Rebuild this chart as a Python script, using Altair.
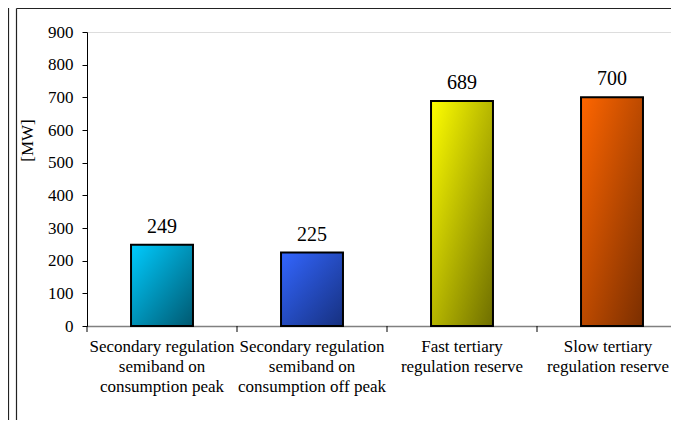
import altair as alt
import pandas as pd

categories = [
    "Secondary regulation|semiband on|consumption peak",
    "Secondary regulation|semiband on|consumption off peak",
    "Fast tertiary|regulation reserve",
    "Slow tertiary|regulation reserve",
]
values = [249, 225, 689, 700]
light_colors = ["#00CCFF", "#3366FF", "#FFFF00", "#FF6600"]
dark_colors = ["#005870", "#16307F", "#6E6E00", "#7A2E00"]
y_ticks = [0, 100, 200, 300, 400, 500, 600, 700, 800, 900]

FONT = "Liberation Serif, Times New Roman, serif"
df = pd.DataFrame({"cat": categories, "val": values})
one = pd.DataFrame({"k": [0]})

x_scale = alt.Scale(range=[0, 600], paddingInner=0, paddingOuter=0)
y_scale = alt.Scale(domain=[0, 900], nice=False)
x_axis = alt.Axis(
    title=None,
    labelExpr="split(datum.label, '|')",
    labelAngle=0,
    labelFont=FONT,
    labelFontSize=17,
    labelColor="black",
    labelLineHeight=20,
    labelPadding=12,
    labelBaseline="top",
    labelOffset={"condition": {"test": "datum.index == 1", "value": -4}, "value": 0},
    ticks=False,
    domainColor="#808080",
    domainWidth=1.5,
    grid=False,
)
y_axis = alt.Axis(
    values=y_ticks,
    tickCount=10,
    labelOverlap=False,
    title="[MW]",
    titleFont=FONT,
    titleFontSize=17,
    titleFontWeight="normal",
    titleColor="black",
    titleAngle=270,
    titleAlign="center",
    titleBaseline="middle",
    titleX=-60,
    titleY=108,
    labelFont=FONT,
    labelFontSize=17,
    labelColor="black",
    labelPadding=9,
    tickSize=5,
    tickColor="black",
    domainColor="black",
    domainWidth=1,
    grid=False,
)

X = alt.X("cat:N", sort=categories, scale=x_scale, axis=x_axis)
Y = alt.Y("val:Q", scale=y_scale, axis=y_axis)

layers = []
for i, c in enumerate(categories):
    grad = alt.LinearGradient(
        gradient="linear",
        stops=[
            alt.GradientStop(color=light_colors[i], offset=0),
            alt.GradientStop(color=dark_colors[i], offset=1),
        ],
        x1=0, y1=0, x2=1, y2=1,
    )
    bar = (
        alt.Chart(df)
        .transform_filter(alt.datum.cat == c)
        .mark_bar(fill=grad, stroke="black", strokeWidth=2,
                  width=alt.RelativeBandSize(0.413))
        .encode(x=X, y=Y)
    )
    layers.append(bar)

text = (
    alt.Chart(df)
    .mark_text(dy=-12, baseline="alphabetic", font=FONT, fontSize=20, color="black")
    .encode(x=X, y=Y, text="val:Q")
)
ticks = (
    alt.Chart(df)
    .mark_rule(color="black", strokeWidth=1)
    .encode(
        x=alt.X("cat:N", sort=categories, scale=x_scale, axis=x_axis, bandPosition=0),
        y=alt.value(294),
        y2=alt.value(300),
    )
)
frame_left = alt.Chart(one).mark_rule(color="#222222", strokeWidth=1.2).encode(
    x=alt.value(-78.5), y=alt.value(-24), y2=alt.value(400)
)
frame_inner_left = alt.Chart(one).mark_rule(color="#222222", strokeWidth=1.2).encode(
    x=alt.value(-70.5), y=alt.value(-23.5), y2=alt.value(400)
)
frame_top = alt.Chart(one).mark_rule(color="#222222", strokeWidth=1.2).encode(
    x=alt.value(-70.5), x2=alt.value(600), y=alt.value(-23.5)
)

chart = (
    alt.layer(*layers, text, ticks, frame_left, frame_inner_left, frame_top)
    .properties(
        width=584,
        height=294,
        autosize=alt.AutoSizeParams(type="none"),
        padding={"left": 79, "top": 24, "right": 0, "bottom": 94},
    )
    .configure_view(stroke=None)
    .configure(font=FONT)
)

chart.save("out.html", embed_options={"renderer": "svg", "actions": False})
